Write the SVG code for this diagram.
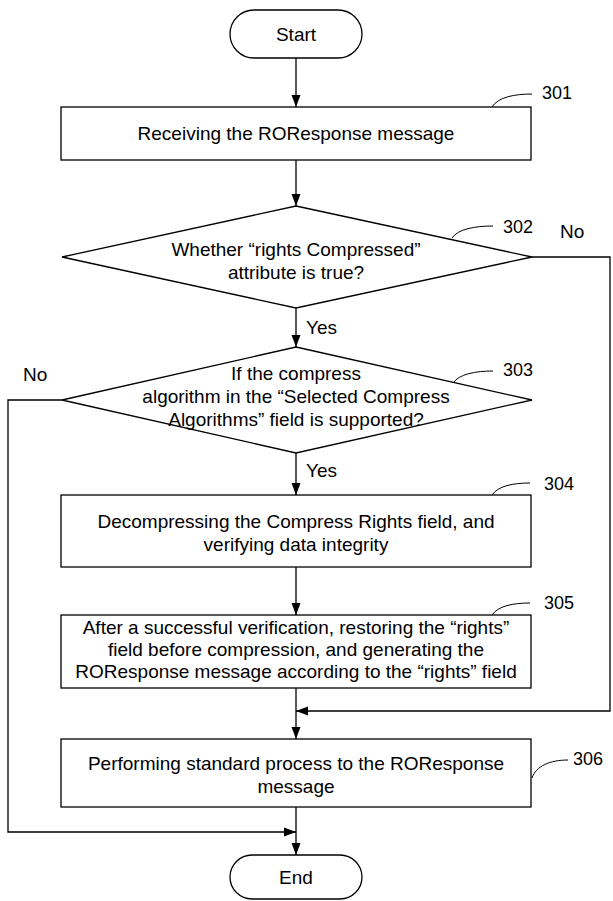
<svg xmlns="http://www.w3.org/2000/svg" width="613" height="901" viewBox="0 0 613 901">
<style>
.s{fill:#fff;stroke:#000;stroke-width:1.3}
.c{fill:none;stroke:#000;stroke-width:1.3}
.l{fill:none;stroke:#000;stroke-width:1}
text{font-family:"Liberation Sans",Arial,sans-serif;font-size:19px;fill:#000}
.n{font-size:18px}
.m{text-anchor:middle}
</style>
<defs>
<marker id="a" markerWidth="12" markerHeight="10" refX="12" refY="5" orient="auto" markerUnits="userSpaceOnUse">
<path d="M0,0.5 L12,5 L0,9.5 Z" fill="#000"/>
</marker>
</defs>
<g id="connectors">
<path class="c" d="M296,58 V107" marker-end="url(#a)"/>
<path class="c" d="M296,160 V206" marker-end="url(#a)"/>
<path class="c" d="M296,308 V347" marker-end="url(#a)"/>
<path class="c" d="M296,453 V495" marker-end="url(#a)"/>
<path class="c" d="M296,567 V615" marker-end="url(#a)"/>
<path class="c" d="M296,688 V739" marker-end="url(#a)"/>
<path class="c" d="M296,807 V855" marker-end="url(#a)"/>
<path class="c" d="M532,257 H610 V711 H296" marker-end="url(#a)"/>
<path class="c" d="M62,400 H8 V832 H296" marker-end="url(#a)"/>
<text x="306" y="334">Yes</text>
<text x="306" y="477">Yes</text>
<text x="560" y="238">No</text>
<text x="23" y="381">No</text>
</g>
<g id="start">
<rect class="s" x="230" y="10" width="132" height="48" rx="24"/>
<text class="m" x="296" y="41">Start</text>
</g>
<g id="n301">
<rect class="s" x="61" y="107" width="470" height="53"/>
<text class="m" x="296" y="140">Receiving the ROResponse message</text>
<path class="l" d="M492,107 C498,97 515,94 532,94"/>
<text class="n" x="542" y="99">301</text>
</g>
<g id="n302">
<polygon class="s" points="296,206 532,257 296,308 62,257"/>
<text class="m" x="296" y="256">Whether “rights Compressed”</text>
<text class="m" x="296" y="279">attribute is true?</text>
<path class="l" d="M452,238 C458,229 475,226 493,226"/>
<text class="n" x="503" y="233">302</text>
</g>
<g id="n303">
<polygon class="s" points="296,347 532,400 296,453 62,400"/>
<text class="m" x="296" y="380">If the compress</text>
<text class="m" x="296" y="403">algorithm in the “Selected Compress</text>
<text class="m" x="296" y="426">Algorithms” field is supported?</text>
<path class="l" d="M453,383 C459,374 476,371 493,371"/>
<text class="n" x="503" y="376">303</text>
</g>
<g id="n304">
<rect class="s" x="61" y="495" width="470" height="72"/>
<text class="m" x="296" y="528">Decompressing the Compress Rights field, and</text>
<text class="m" x="296" y="551">verifying data integrity</text>
<path class="l" d="M492,495 C498,486 513,483 530,483"/>
<text class="n" x="544" y="490">304</text>
</g>
<g id="n305">
<rect class="s" x="61" y="615" width="470" height="73"/>
<text class="m" x="296" y="634">After a successful verification, restoring the “rights”</text>
<text class="m" x="296" y="656">field before compression, and generating the</text>
<text class="m" x="296" y="678">ROResponse message according to the “rights” field</text>
<path class="l" d="M492,615 C498,606 513,603 530,603"/>
<text class="n" x="544" y="609">305</text>
</g>
<g id="n306">
<rect class="s" x="61" y="739" width="470" height="68"/>
<text class="m" x="296" y="770">Performing standard process to the ROResponse</text>
<text class="m" x="296" y="793">message</text>
<path class="l" d="M532,778 C536,766 550,760 568,760"/>
<text class="n" x="573" y="765">306</text>
</g>
<g id="end">
<rect class="s" x="230" y="855" width="132" height="44" rx="22"/>
<text class="m" x="296" y="884">End</text>
</g>
</svg>
